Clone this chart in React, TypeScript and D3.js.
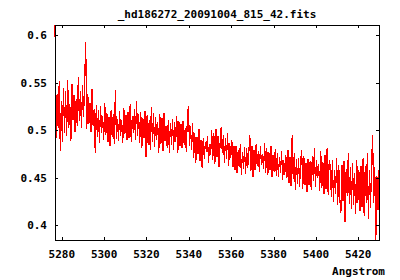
// Spectrum plot, gnuplot look, drawn with d3 scales.

import * as d3 from "d3";

const TITLE = "_hd186272_20091004_815_42.fits";
const X_LABEL = "Angstrom";

// sampling grid of the spectrum (Angstrom)
const WAVE_START = 5276.8;
const WAVE_STEP = 0.5;

// flux, 10 samples per row
const FLUX = [
  0.611, 0.492, 0.538, 0.503, 0.552, 0.478, 0.531, 0.488, 0.545, 0.497,
  0.541, 0.494, 0.553, 0.502, 0.528, 0.489, 0.549, 0.511, 0.537, 0.498,
  0.533, 0.505, 0.556, 0.51, 0.541, 0.502, 0.548, 0.514, 0.552, 0.593,
  0.501, 0.538, 0.507, 0.529, 0.498, 0.544, 0.505, 0.522, 0.476, 0.527,
  0.493, 0.521, 0.487, 0.526, 0.497, 0.515, 0.49, 0.529, 0.495, 0.518,
  0.488, 0.514, 0.484, 0.521, 0.493, 0.517, 0.486, 0.543, 0.491, 0.512,
  0.489, 0.52, 0.494, 0.511, 0.487, 0.524, 0.496, 0.516, 0.49, 0.519,
  0.492, 0.528, 0.488, 0.515, 0.497, 0.522, 0.49, 0.531, 0.494, 0.517,
  0.487, 0.519, 0.481, 0.513, 0.492, 0.52, 0.472, 0.516, 0.485, 0.511,
  0.479, 0.525, 0.488, 0.518, 0.483, 0.514, 0.49, 0.509, 0.476, 0.517,
  0.486, 0.513, 0.478, 0.518, 0.489, 0.505, 0.481, 0.511, 0.476, 0.508,
  0.485, 0.512, 0.479, 0.509, 0.488, 0.515, 0.476, 0.51, 0.484, 0.507,
  0.481, 0.51, 0.485, 0.502, 0.477, 0.512, 0.526, 0.484, 0.505, 0.479,
  0.508, 0.471, 0.497, 0.466, 0.493, 0.475, 0.501, 0.468, 0.49, 0.46,
  0.492, 0.47, 0.488, 0.477, 0.494, 0.466, 0.486, 0.474, 0.5, 0.469,
  0.497, 0.465, 0.501, 0.472, 0.494, 0.461, 0.488, 0.504, 0.476, 0.495,
  0.466, 0.492, 0.47, 0.497, 0.463, 0.487, 0.471, 0.49, 0.461, 0.484,
  0.458, 0.483, 0.455, 0.479, 0.461, 0.486, 0.453, 0.477, 0.459, 0.482,
  0.454, 0.481, 0.46, 0.476, 0.495, 0.457, 0.483, 0.451, 0.479, 0.458,
  0.486, 0.462, 0.478, 0.456, 0.483, 0.464, 0.475, 0.459, 0.487, 0.455,
  0.481, 0.453, 0.477, 0.458, 0.483, 0.451, 0.474, 0.456, 0.48, 0.452,
  0.476, 0.451, 0.472, 0.455, 0.478, 0.448, 0.469, 0.453, 0.474, 0.45,
  0.479, 0.445, 0.472, 0.441, 0.495, 0.449, 0.476, 0.437, 0.47, 0.444,
  0.471, 0.44, 0.468, 0.479, 0.438, 0.473, 0.442, 0.466, 0.435, 0.47,
  0.442, 0.468, 0.437, 0.473, 0.447, 0.481, 0.44, 0.469, 0.45, 0.465,
  0.436, 0.478, 0.439, 0.467, 0.433, 0.474, 0.438, 0.481, 0.432, 0.469,
  0.462, 0.43, 0.469, 0.425, 0.458, 0.433, 0.471, 0.421, 0.464, 0.428,
  0.413, 0.463, 0.426, 0.468, 0.403, 0.459, 0.431, 0.476, 0.422, 0.461,
  0.417, 0.466, 0.421, 0.455, 0.412, 0.469, 0.424, 0.458, 0.415, 0.462,
  0.419, 0.471, 0.41, 0.462, 0.424, 0.476, 0.407, 0.458, 0.418, 0.466,
  0.495, 0.423, 0.461, 0.3845, 0.452, 0.416, 0.458,
];

const X_TICKS = [5280, 5300, 5320, 5340, 5360, 5380, 5400, 5420];
const Y_TICKS = [0.4, 0.45, 0.5, 0.55, 0.6];

const FONT = "'DejaVu Sans Mono', monospace";

export default function App() {
  const width = 400;
  const height = 280;
  const [marginTop, marginRight, marginBottom, marginLeft] = [25, 21, 40, 55];
  const tick = 3;

  const wave = FLUX.map((_, i) => WAVE_START + i * WAVE_STEP);

  // gnuplot autoscale with fixed ends: domain is the data extent
  const scaleX = d3.scaleLinear(d3.extent(wave) as [number, number], [
    marginLeft,
    width - marginRight,
  ]);
  const scaleY = d3.scaleLinear(d3.extent(FLUX) as [number, number], [
    height - marginBottom,
    marginTop,
  ]);

  const l = d3
    .line<number>()
    .x((d, i) => scaleX(wave[i]))
    .y((d) => scaleY(d));

  const x0 = marginLeft;
  const x1 = width - marginRight;
  const y0 = height - marginBottom;
  const y1 = marginTop;

  return (
    <svg
      width={width}
      height={height}
      style={{ position: "absolute", left: 0, top: 0, background: "white" }}
      fontFamily={FONT}
      fontWeight="bold"
      fontSize="11"
    >
      <rect width={width} height={height} fill="white" />
      <text x={(x0 + x1) / 2} y={18} textAnchor="middle" fill="black">
        {TITLE}
      </text>
      <path
        fill="none"
        stroke="#ff0000"
        strokeWidth="1.2"
        shapeRendering="crispEdges"
        d={l(FLUX) ?? ""}
      />
      <g stroke="black" strokeWidth="1" shapeRendering="crispEdges">
        <rect x={x0} y={y1} width={x1 - x0} height={y0 - y1} fill="none" />
        {X_TICKS.map((t) => {
          const x = Math.round(scaleX(t)) + 0.5;
          return (
            <g key={t}>
              <line x1={x} x2={x} y1={y0} y2={y0 - tick} />
              <line x1={x} x2={x} y1={y1} y2={y1 + tick} />
            </g>
          );
        })}
        {Y_TICKS.map((t) => {
          const y = Math.round(scaleY(t)) + 0.5;
          return (
            <g key={t}>
              <line x1={x0} x2={x0 + tick} y1={y} y2={y} />
              <line x1={x1} x2={x1 - tick} y1={y} y2={y} />
            </g>
          );
        })}
      </g>
      <g fill="black">
        {X_TICKS.map((t) => (
          <text key={t} x={scaleX(t)} y={258} textAnchor="middle">
            {t}
          </text>
        ))}
        {Y_TICKS.map((t) => (
          <text key={t} x={47} y={scaleY(t) + 4} textAnchor="end">
            {d3.format("~g")(t)}
          </text>
        ))}
        <text x={385} y={275} textAnchor="end">
          {X_LABEL}
        </text>
      </g>
    </svg>
  );
}
